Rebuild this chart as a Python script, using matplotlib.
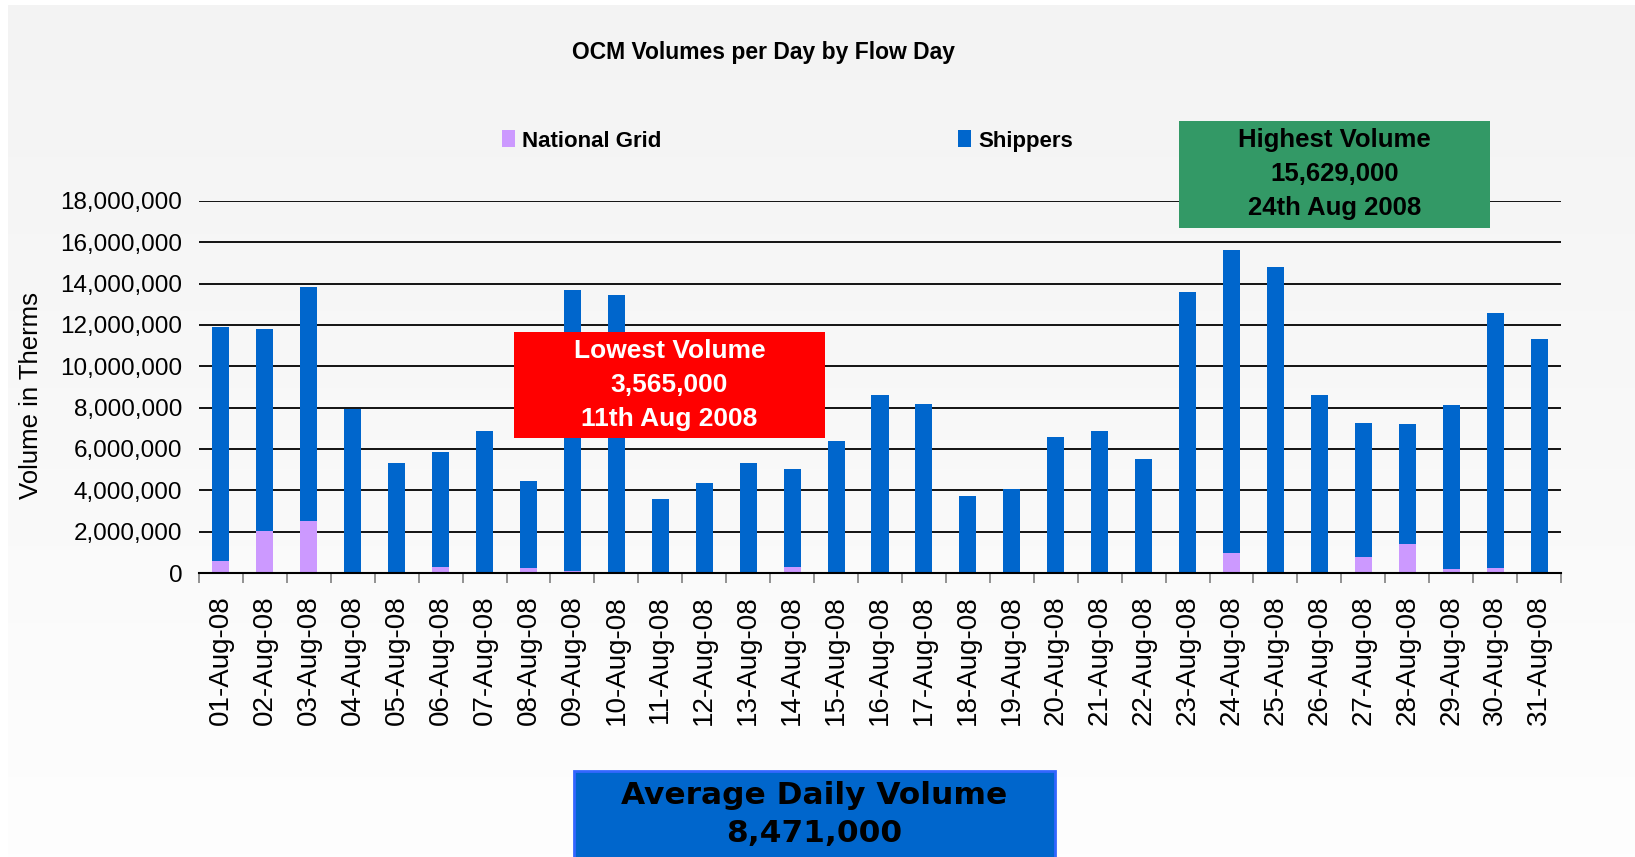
import matplotlib
matplotlib.use("Agg")
import matplotlib.pyplot as plt
import numpy as np
from matplotlib.patches import Rectangle
from matplotlib.ticker import FuncFormatter

# ---------------- data ----------------
days = ["01-Aug-08", "02-Aug-08", "03-Aug-08", "04-Aug-08", "05-Aug-08", "06-Aug-08",
        "07-Aug-08", "08-Aug-08", "09-Aug-08", "10-Aug-08", "11-Aug-08", "12-Aug-08",
        "13-Aug-08", "14-Aug-08", "15-Aug-08", "16-Aug-08", "17-Aug-08", "18-Aug-08",
        "19-Aug-08", "20-Aug-08", "21-Aug-08", "22-Aug-08", "23-Aug-08", "24-Aug-08",
        "25-Aug-08", "26-Aug-08", "27-Aug-08", "28-Aug-08", "29-Aug-08", "30-Aug-08",
        "31-Aug-08"]

national_grid = [600000, 2010000, 2530000, 0, 0, 270000, 0, 220000, 80000, 0, 0, 0,
                 0, 270000, 0, 0, 0, 50000, 0, 0, 0, 0, 0, 950000, 0, 0, 760000,
                 1390000, 180000, 230000, 0]

shippers = [11310000, 9800000, 11310000, 7940000, 5330000, 5590000, 6880000, 4240000,
            13630000, 13460000, 3565000, 4370000, 5330000, 4770000, 6400000, 8620000,
            8170000, 3680000, 4080000, 6600000, 6880000, 5520000, 13620000, 14679000,
            14830000, 8590000, 6480000, 5800000, 7930000, 12330000, 11300000]

series_names = ["National Grid", "Shippers"]
y_ticks = [0, 2000000, 4000000, 6000000, 8000000, 10000000, 12000000,
           14000000, 16000000, 18000000]

title = "OCM Volumes per Day by Flow Day"
y_label = "Volume in Therms"
low_box = ["Lowest Volume", "3,565,000", "11th Aug 2008"]
high_box = ["Highest Volume", "15,629,000", "24th Aug 2008"]
avg_box = ["Average Daily Volume", "8,471,000"]

# ---------------- figure ----------------
W, H = 1635, 857
fig = plt.figure(figsize=(W / 100, H / 100), dpi=100)
fig.patch.set_facecolor("white")

# background gradient
bg = fig.add_axes([0, 0, 1, 1], zorder=-10)
grad = np.linspace(0, 1, 256).reshape(-1, 1)
top_c = np.array([0xf3, 0xf3, 0xf3]) / 255
bot_c = np.array([0xfe, 0xfe, 0xfe]) / 255
img = top_c[None, None, :] * (1 - grad[:, :, None]) + bot_c[None, None, :] * grad[:, :, None]
bg.imshow(img, aspect="auto", extent=[0, 1, 0, 1], origin="upper")
bg.add_patch(Rectangle((0, 1 - 5 / H), 1, 5 / H, color="white", lw=0))
bg.add_patch(Rectangle((0, 0), 8 / W, 1, color="white", lw=0))
bg.set_xlim(0, 1)
bg.set_ylim(0, 1)
bg.axis("off")

FONT = "Liberation Sans"

ax = fig.add_axes([199 / W, 1 - 573 / H, (1561 - 199) / W, (573 - 201) / H])
ax.patch.set_alpha(0)

x = np.arange(len(days))
ng = np.array(national_grid)
sh = np.array(shippers)
b1 = ax.bar(x, ng, width=0.387, color="#cc99ff", zorder=3)
b2 = ax.bar(x, sh, bottom=ng, width=0.387, color="#0066cc", zorder=3)

ax.set_xlim(-0.5, len(days) - 0.5)
ax.set_ylim(0, 18000000)
ax.set_yticks(y_ticks)
ax.yaxis.set_major_formatter(FuncFormatter(lambda v, p: f"{v:,.0f}"))
ax.yaxis.grid(True, color="black", lw=1.3, zorder=1)
ax.set_axisbelow(True)
for s in ["left", "right", "top"]:
    ax.spines[s].set_visible(False)
ax.spines["bottom"].set_color("black")
ax.spines["bottom"].set_linewidth(1.5)
ax.spines["bottom"].set_zorder(4)

ax.set_xticks(x)
ax.set_xticklabels(days, rotation=90, fontsize=20, family=FONT)
ax.set_xticks(np.arange(-0.5, len(days)), minor=True)
ax.tick_params(axis="x", which="major", length=0, pad=16)
ax.tick_params(axis="x", which="minor", length=7, width=1.2, color="#808080")
ax.tick_params(axis="y", length=0, pad=12)
for lbl in ax.get_yticklabels():
    lbl.set_fontsize(17.5)
    lbl.set_family(FONT)

fig.text(31 / W, 1 - 395 / H, y_label, rotation=90, ha="center", va="center",
         fontsize=18.5, family=FONT)

fig.text(763 / W, 1 - 53 / H, title, ha="center", va="center", fontsize=16.5,
         family=FONT, weight="bold")

leg = ax.legend([b1, b2], series_names, loc="center left",
                bbox_to_anchor=(502 / W, 1 - 141 / H), bbox_transform=fig.transFigure,
                ncol=2, frameon=False,
                prop=dict(family=FONT, weight="bold", size=16),
                handlelength=0.6, handleheight=0.8, handletextpad=0.3,
                columnspacing=13.35, borderpad=0, borderaxespad=0)


def box(x0, y0, x1, y1, fc, ec=None, lw=0):
    fig.patches.append(Rectangle((x0 / W, 1 - y1 / H), (x1 - x0) / W, (y1 - y0) / H,
                                 transform=fig.transFigure, facecolor=fc,
                                 edgecolor=ec if ec else fc, lw=lw, zorder=5))


# lowest volume box
box(514, 332, 825, 438, "#ff0000")
for txt, yy in zip(low_box, [351, 385, 419]):
    fig.text(669.5 / W, 1 - yy / H, txt, ha="center", va="center", color="white",
             fontsize=19, family=FONT, weight="bold", zorder=6)

# highest volume box
box(1179, 121, 1490, 228, "#339966")
for txt, yy in zip(high_box, [140, 174, 208]):
    fig.text(1334.5 / W, 1 - yy / H, txt, ha="center", va="center", color="black",
             fontsize=18.5, family=FONT, weight="bold", zorder=6)

# average box
box(574, 771, 1055, 870, "#0066cc", ec="#3366ff", lw=2)
for txt, yy in zip(avg_box, [795, 833]):
    fig.text(814.5 / W, 1 - yy / H, txt, ha="center", va="center", color="black",
             fontsize=22.5, family="DejaVu Sans", weight="bold", zorder=6)

fig.savefig("out.png", dpi=100)
